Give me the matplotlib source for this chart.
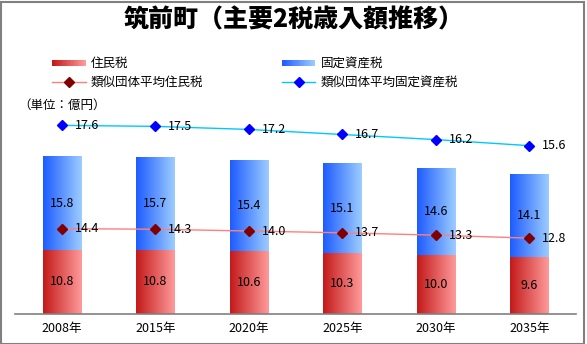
import matplotlib
matplotlib.use("Agg")
import matplotlib.pyplot as plt
import numpy as np
from matplotlib.colors import LinearSegmentedColormap
from matplotlib.legend_handler import HandlerBase
from matplotlib.lines import Line2D
from matplotlib.patches import Rectangle

plt.rcParams["font.family"] = ["Noto Sans CJK JP", "DejaVu Sans"]

years = ["2008年", "2015年", "2020年", "2025年", "2030年", "2035年"]
resident_tax = [10.8, 10.8, 10.6, 10.3, 10.0, 9.6]
property_tax = [15.8, 15.7, 15.4, 15.1, 14.6, 14.1]
peer_resident_tax = [14.4, 14.3, 14.0, 13.7, 13.3, 12.8]
peer_property_tax = [17.6, 17.5, 17.2, 16.7, 16.2, 15.6]

RED_CMAP = LinearSegmentedColormap.from_list("red_grad", ["#C41A1A", "#FF9A9A"])
BLUE_CMAP = LinearSegmentedColormap.from_list("blue_grad", ["#1E5CFF", "#9CCCFF"])
GRAD = np.linspace(0, 1, 64).reshape(1, -1)
LABEL_FS = 9


class GradientHandler(HandlerBase):
    """Legend key drawn as a left-to-right colour gradient."""

    def __init__(self, cmap):
        super().__init__()
        self.cmap = cmap

    def create_artists(self, legend, orig_handle, xdescent, ydescent,
                       width, height, fontsize, trans):
        n = 20
        arts = []
        h = height * 0.75
        y0 = -ydescent + (height - h) / 2
        for i in range(n):
            r = Rectangle((-xdescent + width * i / n, y0), width / n * 1.05, h,
                          facecolor=self.cmap(i / (n - 1)), edgecolor="none",
                          transform=trans)
            arts.append(r)
        return arts


def gradient_fill(ax, patches, cmap):
    for p in patches:
        x, y = p.get_x(), p.get_y()
        w, h = p.get_width(), p.get_height()
        p.set_facecolor("none")
        im = ax.imshow(GRAD, cmap=cmap, aspect="auto", extent=(x, x + w, y, y + h),
                       interpolation="bicubic", zorder=p.get_zorder())
        im.set_clip_path(p)


fig = plt.figure(figsize=(5.87, 3.44), dpi=100)
W, H = 587, 344
ax = fig.add_axes([15 / W, (H - 314) / H, (576 - 15) / W, (314 - 100) / H])
x = np.arange(len(years))
bw = 0.41

red_bars = ax.bar(x, resident_tax, width=bw, zorder=2, edgecolor="none")
blue_bars = ax.bar(x, property_tax, width=bw, bottom=resident_tax, zorder=2,
                   edgecolor="none")
gradient_fill(ax, red_bars, RED_CMAP)
gradient_fill(ax, blue_bars, BLUE_CMAP)

for i in range(len(years)):
    ax.text(x[i], resident_tax[i] / 2, f"{resident_tax[i]:.1f}", ha="center",
            va="center", fontsize=LABEL_FS, zorder=5)
    ax.text(x[i], resident_tax[i] + property_tax[i] / 2, f"{property_tax[i]:.1f}",
            ha="center", va="center", fontsize=LABEL_FS, zorder=5)

ax.plot(x, peer_resident_tax, color="#FF7F7F", lw=1, marker="D", ms=5,
        mfc="#800000", mec="#800000", zorder=4)
for i, v in enumerate(peer_resident_tax):
    ax.text(x[i] + 0.14, v, f"{v:.1f}", ha="left", va="center", fontsize=LABEL_FS,
            zorder=5)

ax.set_xlim(-0.5, len(years) - 0.5)
ax.set_ylim(0, 36.1)
ax.set_xticks(x)
ax.set_xticklabels(years, fontsize=9)
ax.tick_params(axis="x", length=0, pad=6)
ax.set_yticks([])
for s in ("top", "left", "right"):
    ax.spines[s].set_visible(False)
ax.spines["bottom"].set_color("#808080")
ax.spines["bottom"].set_linewidth(1.2)
ax.patch.set_alpha(0)

# peer-group property tax is drawn against its own scale
ax2 = ax.twinx()
ax2.set_ylim(-0.99, 20.1)
ax2.plot(x, peer_property_tax, color="#00C8FF", lw=1, marker="D", ms=5,
         mfc="#0000FF", mec="#0000FF", zorder=4)
for i, v in enumerate(peer_property_tax):
    ax2.text(x[i] + 0.14, v, f"{v:.1f}", ha="left", va="center", fontsize=LABEL_FS,
             zorder=5)
ax2.set_yticks([])
for s in ax2.spines.values():
    s.set_visible(False)

fig.text(0.5, 1 - 19 / H, "筑前町（主要2税歳入額推移）", ha="center", va="center",
         fontsize=18, fontweight="heavy")
fig.text(18 / W, 1 - 105 / H, "（単位：億円）", ha="left", va="center", fontsize=9)

h_red = Rectangle((0, 0), 1, 1)
h_blue = Rectangle((0, 0), 1, 1)
h_pr = Line2D([], [], color="#FF7F7F", lw=1, marker="D", ms=5, mfc="#800000",
              mec="#800000")
h_pp = Line2D([], [], color="#00C8FF", lw=1, marker="D", ms=5, mfc="#0000FF",
              mec="#0000FF")
fig.legend([h_red, h_pr, h_blue, h_pp],
           ["住民税", "類似団体平均住民税", "固定資産税", "類似団体平均固定資産税"],
           ncol=2, loc="upper left", bbox_to_anchor=(41 / W, 1 - 46 / H),
           frameon=False, fontsize=9, handlelength=2.7, handletextpad=0.4,
           columnspacing=6.25, labelspacing=0.45,
           handler_map={h_red: GradientHandler(RED_CMAP),
                        h_blue: GradientHandler(BLUE_CMAP)})

fig.add_artist(Rectangle((0.5 / W, 0.5 / H), 583 / W, 342 / H, fill=False,
                         edgecolor="#808080", lw=1.5, transform=fig.transFigure))

fig.savefig("out.png", dpi=100)
